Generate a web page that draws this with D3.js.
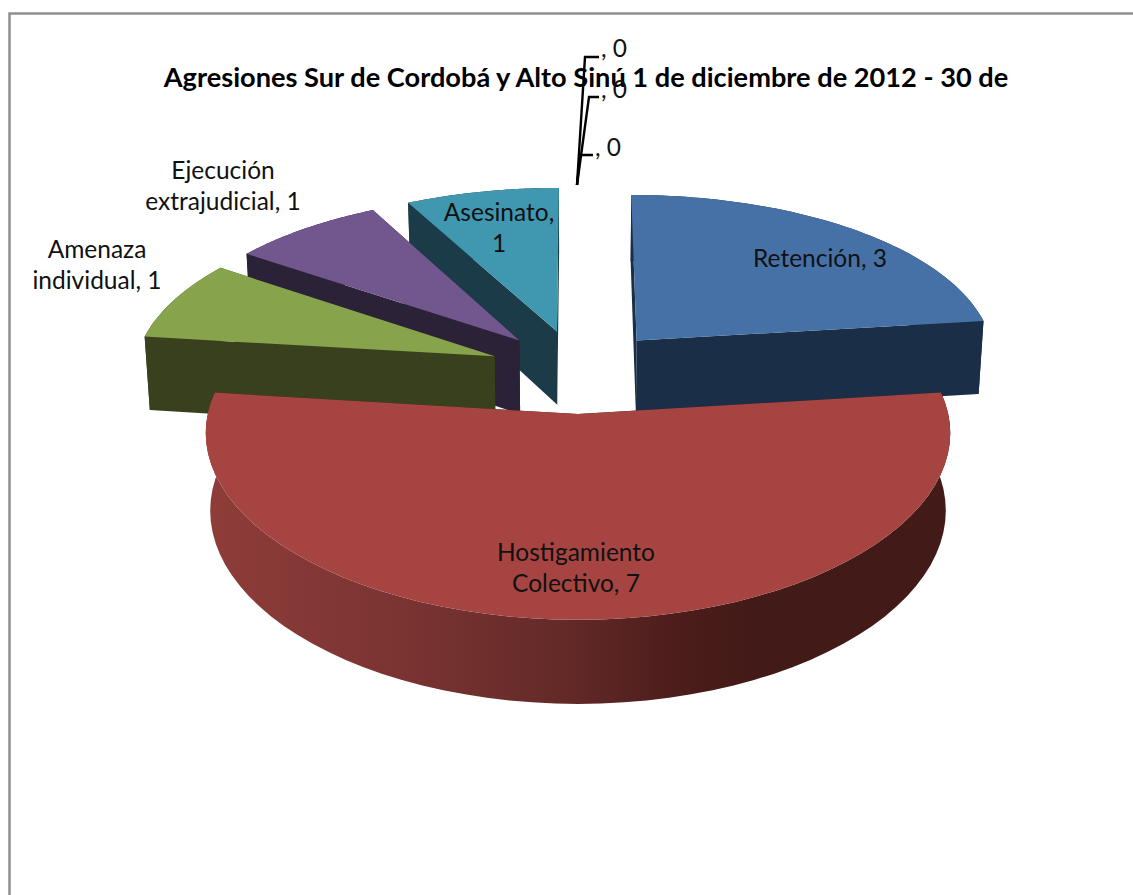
<!DOCTYPE html>
<meta charset="utf-8">
<style>
  body{ margin: 0; background: #fff; }
  text{ font-family: Lato, sans-serif; fill: #111; }
</style>

<svg width="1133" height="895"></svg>

<script src="https://d3js.org/d3.v7.min.js"></script>
<script>
  // data
  const categories = ['Retención', 'Hostigamiento Colectivo', 'Amenaza individual', 'Ejecución extrajudicial', 'Asesinato', '', '', '']
  const values = [3, 7, 1, 1, 1, 0, 0, 0]
  const titleText = 'Agresiones Sur de Cordobá y Alto Sinú 1 de diciembre de 2012 - 30 de'

  //visual values
  const topColors = ['#4571a7', '#a64442', '#87a44c', '#71578d', '#4097b0']
  const wallColors = ['#1a2f47', '#421a17', '#38401e', '#2c2238', '#1a3b47']
  const labelLines = [
    [['Retención, 3'], 820, 267],
    [['Hostigamiento', 'Colectivo, 7'], 576, 561],
    [['Amenaza', 'individual, 1'], 97, 258],
    [['Ejecución', 'extrajudicial, 1'], 223, 179],
    [['Asesinato,', '1'], 499, 221]
  ]
  // the zero slices keep only their leader line and label
  const zeroLabels = [[580, 155, 593, 595, 156], [589, 97, 599, 601, 98], [585, 57, 599, 601, 57]]

  // the 3d pie is a flat disc seen through a simple perspective
  const cx = 578, cy = 371, radiusX = 361, radiusY = 366, explode = 90
  const eye = 1414, distY = 3048, distX = 3600, thick = 75

  function project(u, v, low){
    let s = distX/(distX - v)
    let narrow = low ? 0.988 : 1
    let drop = low ? thick*(1 + v/3750) : 0
    return [cx + u*s*narrow, cy + eye*v/(distY - v) + drop]
  }

  function slicePoints(d, low){
    let mid = (d.startAngle + d.endAngle)/2
    let ou = Math.sin(mid)*explode, ov = -Math.cos(mid)*explode
    return {
      apex: project(ou, ov, low),
      rim: d3.range(0, 61).map(i=>{
        let a = d.startAngle + (d.endAngle - d.startAngle)*i/60
        return project(ou + Math.sin(a)*radiusX, ov - Math.cos(a)*radiusY, low)
      })
    }
  }

  const svg = d3.select('svg')
  const line = d3.line()

  // chart frame
  svg.append('rect')
    .attr('x', 9.5).attr('y', 13.5)
    .attr('width', 1140).attr('height', 900)
    .attr('fill', '#fff')
    .attr('stroke', '#8f8f8f')
    .attr('stroke-width', 2.5)

  svg.append('text')
    .attr('x', 586).attr('y', 87)
    .attr('text-anchor', 'middle')
    .attr('font-size', 27.2)
    .attr('font-weight', 700)
    .style('fill', '#000')
    .text(titleText)

  const pie = d3.pie().sort(null).value(d=>d)
  const slices = pie(values)

  // shading along the front rim of the big slice
  const grad = svg.append('defs').append('linearGradient')
    .attr('id', 'rimShade')
    .attr('gradientUnits', 'userSpaceOnUse')
    .attr('x1', 200).attr('x2', 950).attr('y1', 0).attr('y2', 0)
  grad.selectAll('stop')
    .data([[0, '#8f3d39'], [0.27, '#7a3432'], [0.48, '#642a28'], [0.65, '#4a1c1a'], [0.75, '#421a17'], [1, '#421a17']])
    .enter().append('stop')
    .attr('offset', d=>d[0])
    .attr('stop-color', d=>d[1])

  // back slices first, the big front one last
  const order = [4, 3, 2, 0, 1]
  order.forEach(i=>{
    let top = slicePoints(slices[i], false)
    let low = slicePoints(slices[i], true)
    let g = svg.append('g')
    let wallFill = i === 1 ? 'url(#rimShade)' : wallColors[i]

    // rim wall
    g.append('path')
      .attr('d', line(top.rim.concat(low.rim.slice().reverse())) + 'Z')
      .attr('fill', wallFill)
    // the two cut walls
    g.append('path')
      .attr('d', line([top.apex, top.rim[0], low.rim[0], low.apex]) + 'Z')
      .attr('fill', wallColors[i])
    g.append('path')
      .attr('d', line([top.apex, top.rim[60], low.rim[60], low.apex]) + 'Z')
      .attr('fill', wallColors[i])
    // top face
    g.append('path')
      .attr('d', line([top.apex].concat(top.rim)) + 'Z')
      .attr('fill', topColors[i])
  })

  // leader lines of the zero slices
  zeroLabels.forEach((z, i)=>{
    svg.append('path')
      .attr('d', line([[577, 185], [z[0], z[1]], [z[2], z[1]]]))
      .attr('fill', 'none')
      .attr('stroke', '#000')
      .attr('stroke-width', 2.4)
    svg.append('text')
      .attr('x', z[3]).attr('y', z[4])
      .attr('font-size', 24.5)
      .text(categories[5 + i] + ', ' + values[5 + i])
  })

  // data labels
  labelLines.forEach(l=>{
    let t = svg.append('text')
      .attr('x', l[1]).attr('y', l[2])
      .attr('text-anchor', 'middle')
      .attr('font-size', 24.5)
    l[0].forEach((s, j)=>{
      t.append('tspan')
        .attr('x', l[1])
        .attr('dy', j ? 31 : 0)
        .text(s)
    })
  })
</script>
